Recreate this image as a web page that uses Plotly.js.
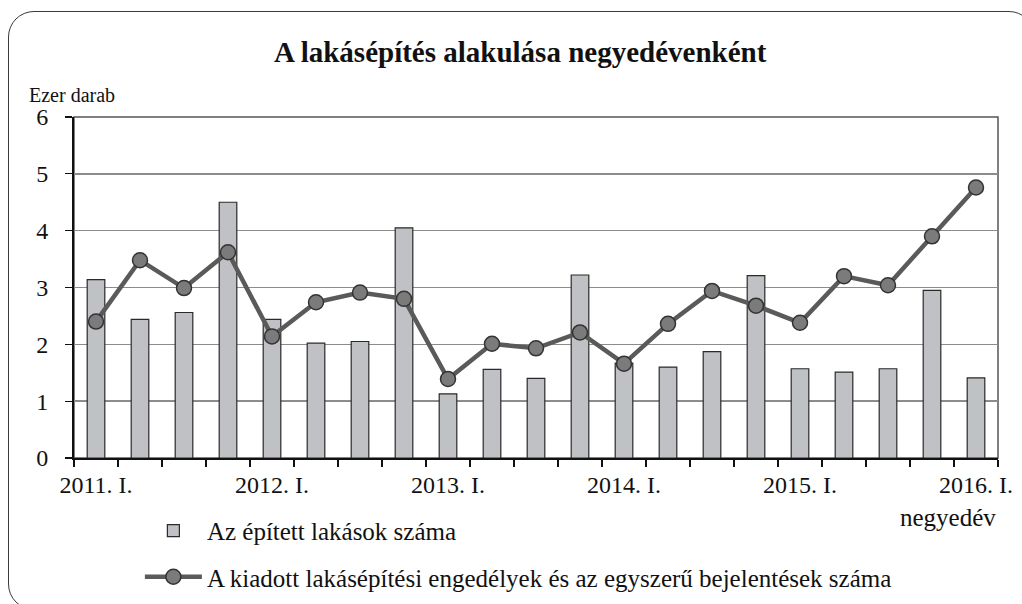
<!DOCTYPE html>
<html>
<head>
<meta charset="utf-8">
<script src="https://cdn.plot.ly/plotly-3.0.1.min.js"></script>
<style>
  html, body { margin: 0; padding: 0; background: #fff; overflow: hidden; }
  #wrap { position: relative; width: 1022px; height: 604px; overflow: hidden; }
  #chart { position: absolute; left: 0; top: 0; width: 1022px; height: 604px; }
  #frame { position: absolute; left: 8px; top: 11px; width: 1027px; height: 599px;
           border: 1.5px solid #3a3a3a; border-radius: 26px; box-sizing: border-box; pointer-events: none; }
</style>
</head>
<body>
<div id="wrap">
  <div id="chart"></div>
  <div id="frame"></div>
</div>
<script>
const quarters = [
  "2011. I.", "2011. II.", "2011. III.", "2011. IV.",
  "2012. I.", "2012. II.", "2012. III.", "2012. IV.",
  "2013. I.", "2013. II.", "2013. III.", "2013. IV.",
  "2014. I.", "2014. II.", "2014. III.", "2014. IV.",
  "2015. I.", "2015. II.", "2015. III.", "2015. IV.",
  "2016. I."
];
const tickLabels = [
  "2011. I.", "", "", "",
  "2012. I.", "", "", "",
  "2013. I.", "", "", "",
  "2014. I.", "", "", "",
  "2015. I.", "", "", "",
  "2016. I."
];
const builtHomes = [3.14, 2.44, 2.56, 4.50, 2.44, 2.02, 2.05, 4.05, 1.13, 1.56, 1.40,
                    3.22, 1.67, 1.60, 1.87, 3.21, 1.57, 1.51, 1.57, 2.95, 1.41];
const permits = [2.40, 3.48, 2.99, 3.62, 2.14, 2.74, 2.91, 2.80, 1.39, 2.01, 1.93,
                 2.21, 1.66, 2.36, 2.94, 2.68, 2.38, 3.20, 3.04, 3.90, 4.76];

const FONT = "Liberation Serif, DejaVu Serif, serif";

const traces = [
  {
    type: "bar",
    x: quarters,
    y: builtHomes,
    name: "Az épített lakások száma",
    width: 0.4,
    marker: { color: "#c0c1c5", line: { color: "#2a2a2a", width: 1.2 } },
    legend: "legend"
  },
  {
    type: "scatter",
    mode: "lines+markers",
    x: quarters,
    y: permits,
    name: "A kiadott lakásépítési engedélyek és az egyszerű bejelentések száma",
    line: { color: "#5a5a5a", width: 4.5 },
    marker: { symbol: "circle", size: 15, color: "#7b7b7b", line: { color: "#333333", width: 1.5 } },
    legend: "legend2"
  }
];

const layout = {
  width: 1022,
  height: 604,
  margin: { l: 74, r: 24, t: 117, b: 146, autoexpand: false },
  paper_bgcolor: "#ffffff",
  plot_bgcolor: "#ffffff",
  font: { family: FONT, size: 24, color: "#111" },
  title: {
    text: "<b>A lakásépítés alakulása negyedévenként</b>",
    font: { family: FONT, size: 29, color: "#111" },
    x: 0.509, xanchor: "center",
    y: 0.914, yanchor: "middle"
  },
  showlegend: true,
  xaxis: {
    type: "category",
    tickmode: "array",
    tickvals: quarters,
    ticktext: tickLabels,
    tickson: "boundaries",
    tickangle: 0,
    ticks: "outside",
    ticklen: 7,
    tickcolor: "#111",
    tickwidth: 1.3,
    showgrid: false,
    showline: true,
    linecolor: "#111",
    linewidth: 2,
    tickfont: { family: FONT, size: 24, color: "#111" },
    ticklabelstandoff: 4,
    automargin: false,
    range: [-0.5, 20.5],
    fixedrange: true
  },
  yaxis: {
    range: [0, 6],
    tickvals: [0, 1, 2, 3, 4, 5, 6],
    ticks: "outside",
    ticklen: 7,
    tickcolor: "#111",
    tickwidth: 1.3,
    showgrid: true,
    gridcolor: "#8c8c8c",
    gridwidth: 1.5,
    zeroline: false,
    showline: true,
    linecolor: "#111",
    linewidth: 2,
    tickfont: { family: FONT, size: 24, color: "#111" },
    ticklabelstandoff: 12,
    automargin: false,
    fixedrange: true
  },
  shapes: [
    { type: "rect", xref: "paper", yref: "paper", x0: 0, x1: 1, y0: 0, y1: 1,
      line: { color: "#555", width: 1.5 }, fillcolor: "rgba(0,0,0,0)", layer: "below" }
  ],
  legend: {
    x: 0.0713, xanchor: "left", y: -0.214, yanchor: "middle",
    orientation: "v",
    itemwidth: 57,
    bgcolor: "rgba(0,0,0,0)",
    font: { family: FONT, size: 25, color: "#111" }
  },
  legend2: {
    x: 0.0713, xanchor: "left", y: -0.349, yanchor: "middle",
    orientation: "v",
    itemwidth: 57,
    bgcolor: "rgba(0,0,0,0)",
    font: { family: FONT, size: 25, color: "#111" }
  },
  annotations: [
    { text: "Ezer darab", xref: "paper", yref: "paper", x: -0.051, y: 1.065,
      xanchor: "left", yanchor: "middle", showarrow: false,
      font: { family: FONT, size: 20, color: "#111" } },
    { text: "negyedév", xref: "paper", yref: "paper", x: 1.0, y: -0.174,
      xanchor: "right", yanchor: "middle", showarrow: false,
      font: { family: FONT, size: 25, color: "#111" } }
  ]
};

Plotly.newPlot("chart", traces, layout, { displayModeBar: false, staticPlot: true });
</script>
</body>
</html>
